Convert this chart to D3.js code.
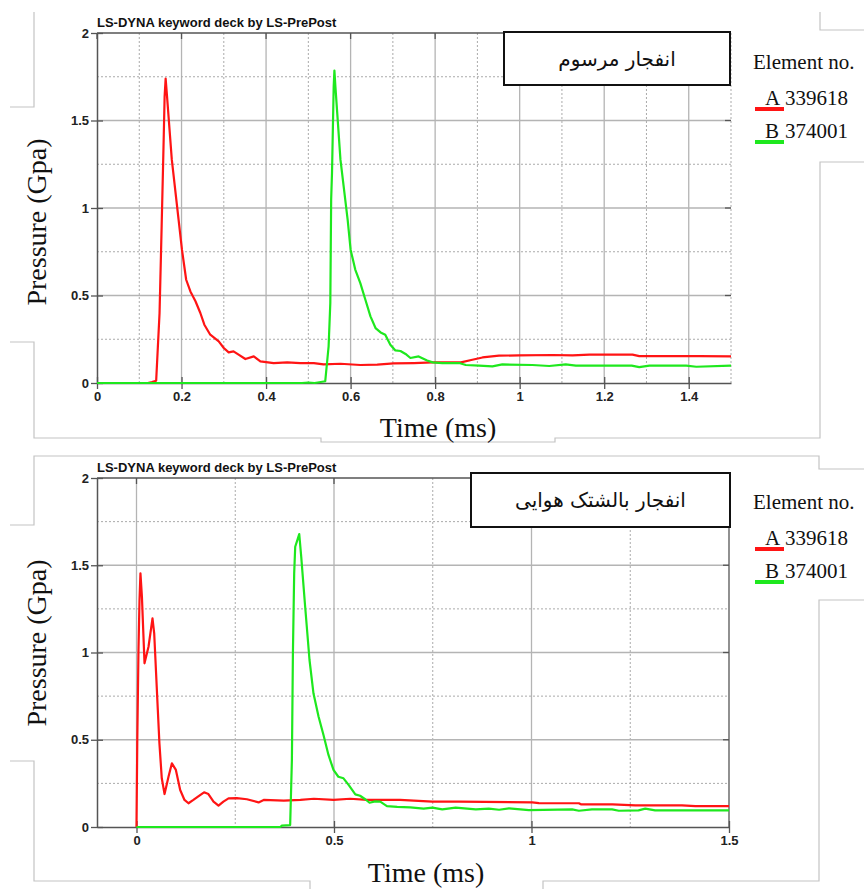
<!DOCTYPE html>
<html><head><meta charset="utf-8">
<script src="https://cdn.jsdelivr.net/npm/d3@7"></script>
<style>html,body{margin:0;padding:0;background:#fff;}svg{display:block;}</style>
</head><body>
<svg id="chart" width="864" height="889"></svg>
<script>
// ---------- DATA ----------
const chartTitle = "LS-DYNA keyword deck by LS-PrePost";
const panelTitles = ["انفجار مرسوم", "انفجار بالشتک هوایی"];
const legendHeader = "Element no.";
const seriesLetters = ["A", "B"];
const seriesIds = ["339618", "374001"];
const yLabel = "Pressure (Gpa)";
const xLabel = "Time (ms)";

const yTickLabels = [0, 0.5, 1, 1.5, 2];
const p1XTickLabels = [0, 0.2, 0.4, 0.6, 0.8, 1, 1.2, 1.4];
const p2XTickLabels = [0, 0.5, 1, 1.5];

// Panel 1 (top)
const p1TimeA = [0,0.12,0.13,0.14,0.148,0.153,0.156,0.158,0.160,0.1624,0.1657,0.177,0.193,0.201,0.211,0.221,0.233,0.2445,0.254,0.268,0.288,0.30,0.3115,0.323,0.335,0.351,0.371,0.3865,0.418,0.45,0.481,0.513,0.536,0.576,0.623,0.663,0.702,0.75,0.794,0.861,0.888,0.912,0.951,0.998,1.078,1.125,1.165,1.267,1.283,1.425,1.5];
const p1PressA = [0,0,0.005,0.013,0.4,0.9,1.209,1.419,1.638,1.739,1.638,1.276,0.933,0.762,0.59,0.523,0.467,0.40,0.333,0.276,0.238,0.20,0.175,0.181,0.162,0.137,0.152,0.124,0.114,0.118,0.114,0.114,0.106,0.11,0.103,0.105,0.112,0.114,0.118,0.118,0.133,0.146,0.156,0.158,0.16,0.158,0.162,0.162,0.154,0.154,0.152];
const p1TimeB = [0,0.485,0.50,0.515,0.54,0.548,0.552,0.554,0.556,0.56,0.5617,0.564,0.576,0.593,0.60,0.611,0.623,0.635,0.647,0.659,0.671,0.682,0.694,0.706,0.718,0.73,0.7415,0.761,0.781,0.794,0.817,0.857,0.8725,0.904,0.9355,0.959,1.03,1.07,1.109,1.133,1.265,1.283,1.307,1.394,1.418,1.5];
const p1PressB = [0,0,0.003,0,0.01,0.21,0.457,1.047,1.2,1.695,1.785,1.695,1.276,0.933,0.762,0.648,0.571,0.476,0.381,0.314,0.289,0.276,0.219,0.186,0.183,0.166,0.143,0.152,0.129,0.118,0.114,0.114,0.103,0.099,0.095,0.106,0.103,0.097,0.106,0.099,0.099,0.091,0.099,0.099,0.093,0.099];

// Panel 2 (bottom)
const p2TimeA = [0,0.002,0.005,0.0076,0.010,0.0137,0.0203,0.0304,0.0405,0.0448,0.048,0.054,0.058,0.064,0.071,0.081,0.0896,0.0997,0.1106,0.1215,0.1316,0.144,0.161,0.171,0.182,0.195,0.2076,0.22,0.233,0.254,0.2795,0.309,0.322,0.373,0.415,0.449,0.499,0.541,0.584,0.667,0.749,0.816,1.002,1.0187,1.12,1.125,1.205,1.263,1.381,1.415,1.5];
const p2PressA = [0,0.5,1.014,1.30,1.454,1.32,0.938,1.033,1.196,1.11,0.957,0.67,0.48,0.279,0.189,0.288,0.365,0.327,0.212,0.155,0.136,0.155,0.183,0.199,0.189,0.145,0.122,0.145,0.164,0.166,0.159,0.141,0.155,0.151,0.155,0.162,0.155,0.162,0.155,0.155,0.145,0.145,0.141,0.137,0.136,0.13,0.13,0.124,0.124,0.12,0.12];
const p2TimeB = [0,0.364,0.368,0.389,0.3934,0.396,0.3992,0.4018,0.4086,0.412,0.417,0.427,0.438,0.448,0.461,0.4734,0.486,0.4987,0.511,0.524,0.537,0.554,0.566,0.579,0.59,0.604,0.617,0.634,0.66,0.693,0.727,0.749,0.774,0.808,0.859,0.892,0.918,0.943,0.9934,1.103,1.12,1.153,1.204,1.221,1.271,1.288,1.313,1.5];
const p2PressB = [0,0,0.008,0.011,0.384,1.0,1.454,1.606,1.654,1.679,1.549,1.262,0.957,0.766,0.632,0.527,0.413,0.327,0.288,0.279,0.241,0.187,0.179,0.159,0.139,0.147,0.145,0.12,0.115,0.113,0.105,0.111,0.101,0.111,0.101,0.105,0.099,0.107,0.097,0.101,0.093,0.101,0.101,0.093,0.095,0.105,0.095,0.095];

// ---------- LAYOUT ----------
const colors = ["#ff1414", "#1ee81e"];
const svg = d3.select("#chart");

// light gray page decorations
const deco = [
  [[10,107],[34,107],[34,12]],
  [[820,12],[820,30],[864,30]],
  [[864,162],[820,162],[820,438],[555,438],[555,442],[321,442],[321,438],[34,438],[34,342],[10,342]],
  [[10,525],[34,525],[34,456],[819,456],[819,469],[864,469]],
  [[864,600],[819,600],[819,881],[543,881],[543,889]],
  [[10,761],[34,761],[34,881],[310,881],[310,889]]
];
svg.append("g").selectAll("path").data(deco).join("path")
  .attr("d", d => d3.line()(d)).attr("fill","none").attr("stroke","#c4c4c4").attr("stroke-width",1.2);

const panels = [
  {left:97, right:731, top:33, bottom:383, xDomain:[0,1.5],
   xMajor:[0.2,0.4,0.6,0.8,1,1.2,1.4], xMinor:[0.1,0.3,0.5,0.7,0.9,1.1,1.3,1.5],
   xTicks:p1XTickLabels, rightSolid:false,
   series:[[p1TimeA,p1PressA],[p1TimeB,p1PressB]],
   box:[504,32,730,85], title:panelTitles[0],
   legendY:69, xLabelX:438, xLabelY:437, yLabelY:222},
  {left:97, right:729, top:478, bottom:827, xDomain:[-0.1,1.5],
   xMajor:[0,0.5,1], xMinor:[0.25,0.75,1.25],
   xTicks:p2XTickLabels, rightSolid:true,
   series:[[p2TimeA,p2PressA],[p2TimeB,p2PressB]],
   box:[471,473,730,527], title:panelTitles[1],
   legendY:509, xLabelX:426, xLabelY:882, yLabelY:643}
];

const yMajor = [0.5,1,1.5], yMinor = [0.25,0.75,1.25,1.75];
const frameColor = "#555";
const gridColor = "#b4b4b4";
const tickFont = "'Liberation Sans', Arial, sans-serif";

panels.forEach(p => {
  const x = d3.scaleLinear().domain(p.xDomain).range([p.left, p.right]);
  const y = d3.scaleLinear().domain([0,2]).range([p.bottom, p.top]);
  const g = svg.append("g");

  // grid
  const grid = g.append("g");
  grid.selectAll(".xmaj").data(p.xMajor).join("line")
    .attr("x1", d=>x(d)).attr("x2", d=>x(d)).attr("y1", p.top).attr("y2", p.bottom)
    .attr("stroke", gridColor).attr("stroke-width",1.3);
  grid.selectAll(".xmin").data(p.xMinor).join("line")
    .attr("x1", d=>x(d)).attr("x2", d=>x(d)).attr("y1", p.top).attr("y2", p.bottom)
    .attr("stroke", "#aaa").attr("stroke-width",1).attr("stroke-dasharray","2,2");
  grid.selectAll(".ymaj").data(yMajor).join("line")
    .attr("y1", d=>y(d)).attr("y2", d=>y(d)).attr("x1", p.left).attr("x2", p.right)
    .attr("stroke", gridColor).attr("stroke-width",1.3);
  grid.selectAll(".ymin").data(yMinor).join("line")
    .attr("y1", d=>y(d)).attr("y2", d=>y(d)).attr("x1", p.left).attr("x2", p.right)
    .attr("stroke", "#aaa").attr("stroke-width",1).attr("stroke-dasharray","2,2");

  // frame (top, right)
  g.append("line").attr("x1",p.left).attr("x2",p.right).attr("y1",p.top).attr("y2",p.top)
    .attr("stroke",frameColor).attr("stroke-width",1.3);
  if (p.rightSolid) {
    g.append("line").attr("x1",p.right).attr("x2",p.right).attr("y1",p.top).attr("y2",p.bottom)
      .attr("stroke",frameColor).attr("stroke-width",1.3);
  }
  // top inward ticks
  const topTicks = p.xTicks.filter(d => d < p.xDomain[1]);
  g.selectAll(".tt").data(topTicks).join("line")
    .attr("x1",d=>x(d)).attr("x2",d=>x(d)).attr("y1",p.top).attr("y2",p.top+6)
    .attr("stroke",frameColor).attr("stroke-width",1.3);
  // right inward ticks
  g.selectAll(".rt").data(yMajor).join("line")
    .attr("y1",d=>y(d)).attr("y2",d=>y(d)).attr("x1",p.right-6).attr("x2",p.right)
    .attr("stroke",frameColor).attr("stroke-width",1.3);

  // x axis
  const xAxis = g.append("g").attr("transform",`translate(0,${p.bottom})`)
    .call(d3.axisBottom(x).tickValues(p.xTicks).tickFormat(d3.format("~g")).tickSizeInner(6).tickSizeOuter(0).tickPadding(3));
  xAxis.select(".domain").attr("stroke",frameColor).attr("stroke-width",1.5);
  xAxis.selectAll(".tick line").attr("y1",-6).attr("stroke",frameColor).attr("stroke-width",1.3);
  xAxis.selectAll(".tick text").attr("font-family",tickFont).attr("font-weight","bold")
    .attr("font-size",13).attr("fill","#222");

  // y axis
  const yAxis = g.append("g").attr("transform",`translate(${p.left},0)`)
    .call(d3.axisLeft(y).tickValues(yTickLabels).tickFormat(d3.format("~g")).tickSizeInner(6).tickSizeOuter(0).tickPadding(2));
  yAxis.select(".domain").attr("stroke",frameColor).attr("stroke-width",1.5);
  yAxis.selectAll(".tick line").attr("x1",6).attr("stroke",frameColor).attr("stroke-width",1.3);
  yAxis.selectAll(".tick text").attr("font-family",tickFont).attr("font-weight","bold")
    .attr("font-size",13).attr("fill","#222");

  // series lines
  const line = d3.line().x(d=>x(d[0])).y(d=>y(d[1]));
  p.series.forEach((s,i) => {
    g.append("path").datum(d3.zip(s[0], s[1]))
      .attr("d", line).attr("fill","none").attr("stroke",colors[i])
      .attr("stroke-width",2.2).attr("stroke-linejoin","round");
  });

  // chart title
  g.append("text").attr("x",p.left).attr("y",p.top-6)
    .attr("font-family",tickFont).attr("font-weight","bold").attr("font-size",13)
    .attr("fill","#111").text(chartTitle);

  // panel title box
  const [bx0,by0,bx1,by1] = p.box;
  g.append("rect").attr("x",bx0).attr("y",by0).attr("width",bx1-bx0).attr("height",by1-by0)
    .attr("fill","#fff").attr("stroke","#111").attr("stroke-width",2);
  g.append("text").attr("x",(bx0+bx1)/2).attr("y",(by0+by1)/2+7)
    .attr("text-anchor","middle").attr("direction","rtl")
    .attr("font-family","'DejaVu Sans', 'Noto Sans', sans-serif").attr("font-size",20)
    .attr("fill","#111").text(p.title);

  // legend
  const serif = "'Liberation Serif', 'Times New Roman', serif";
  const lg = g.append("g");
  lg.append("text").attr("x",753).attr("y",p.legendY).attr("font-family",serif)
    .attr("font-size",21).attr("fill","#111").text(legendHeader);
  seriesLetters.forEach((L,i) => {
    const by = p.legendY + 36 + i*33;
    lg.append("rect").attr("x",755).attr("y",by+2).attr("width",29).attr("height",4)
      .attr("fill",colors[i]);
    lg.append("text").attr("x",765).attr("y",by).attr("font-family",serif)
      .attr("font-size",21).attr("fill","#111").text(L);
    lg.append("text").attr("x",785).attr("y",by).attr("font-family",serif)
      .attr("font-size",21).attr("fill","#111").text(seriesIds[i]);
  });

  // axis labels
  g.append("text").attr("x",p.xLabelX).attr("y",p.xLabelY).attr("text-anchor","middle")
    .attr("font-family",serif).attr("font-size",28).attr("fill","#111").text(xLabel);
  g.append("text").attr("transform",`translate(46,${p.yLabelY}) rotate(-90)`)
    .attr("text-anchor","middle").attr("font-family",serif).attr("font-size",28)
    .attr("fill","#111").text(yLabel);
});
</script>
</body></html>
